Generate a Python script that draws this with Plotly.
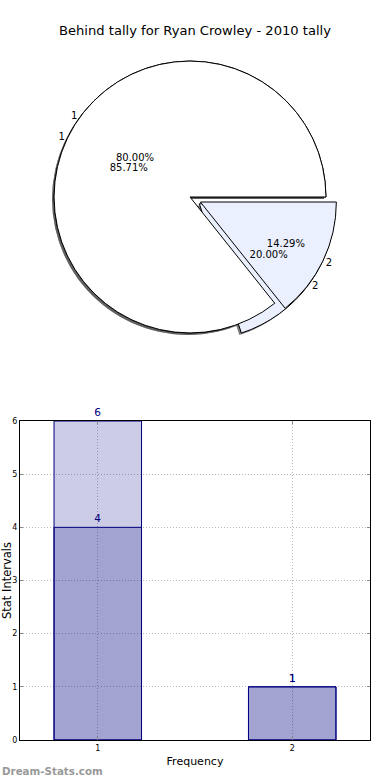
import plotly.graph_objects as go

# ---- data ----
categories = [1, 2]
cat_labels = ["1", "2"]
series_a = [6, 1]   # 85.71% / 14.29%
series_b = [4, 1]   # 80.00% / 20.00%
y_ticks = [0, 1, 2, 3, 4, 5, 6]
title_text = "Behind tally for Ryan Crowley - 2010 tally"

W, H = 390, 780
FONT = "DejaVu Sans"

def px_x(x):
    return x / W

def px_y(y):
    return 1 - y / H

# pie geometry
cx, cy, D = 190, 197, 295
pie_dom = dict(x=[px_x(cx - D / 2), px_x(cx + D / 2)], y=[px_y(cy + D / 2), px_y(cy - D / 2)])
shadow_dom = dict(x=[px_x(cx - D / 2 - 2), px_x(cx + D / 2 - 2)], y=[px_y(cy + D / 2 + 2), px_y(cy - D / 2 + 2)])
pie_colors = ["#ffffff", "#ebf0ff"]
pull = [0, 0.085]

# slices drawn starting at 3 o'clock: slice "2" clockwise below, slice "1" the rest
def rev(v):
    return list(v)[::-1]

common = dict(labels=rev(cat_labels), sort=False, direction="clockwise", rotation=90,
              pull=rev(pull), showlegend=False, hoverinfo="skip")

fig = go.Figure()

# shadows
for vals in (series_b, series_a):
    fig.add_trace(go.Pie(values=rev(vals), domain=shadow_dom, textinfo="none",
                         marker=dict(colors=["rgba(90,90,90,0.8)"] * 2, line=dict(width=0)), **common))

# filled pies
for vals in (series_b, series_a):
    fig.add_trace(go.Pie(values=rev(vals), domain=pie_dom, textinfo="none",
                         marker=dict(colors=rev(pie_colors), line=dict(color="black", width=1)), **common))

# percent text layers (transparent)
for vals in (series_b, series_a):
    fig.add_trace(go.Pie(values=rev(vals), domain=pie_dom, texttemplate="%{percent:.2%}",
                         textposition="inside", insidetextorientation="horizontal",
                         insidetextfont=dict(family=FONT, size=10, color="black"),
                         marker=dict(colors=["rgba(0,0,0,0)"] * 2, line=dict(width=0)), **common))

# label text layers (transparent)
for vals in (series_b, series_a):
    fig.add_trace(go.Pie(values=rev(vals), domain=pie_dom, texttemplate="%{label}",
                         textposition="outside",
                         outsidetextfont=dict(family=FONT, size=10, color="black"),
                         marker=dict(colors=["rgba(0,0,0,0)"] * 2, line=dict(width=0)), **common))

# bars (overlayed, translucent navy)
for vals in (series_a, series_b):
    fig.add_trace(go.Bar(x=categories, y=vals, width=0.45, text=vals, textposition="outside",
                         textfont=dict(family=FONT, size=10.5, color="#000080"),
                         marker=dict(color="rgba(0,0,128,0.2)", line=dict(color="#000080", width=1)),
                         cliponaxis=False, showlegend=False, hoverinfo="skip"))

grid = dict(showgrid=True, gridcolor="#b8b8b8", griddash="1px,2px", gridwidth=1,
            showline=True, linecolor="black", linewidth=1, mirror="ticks",
            ticks="inside", ticklen=3, tickcolor="#888",
            tickfont=dict(size=8, family=FONT),
            zeroline=False, automargin=False, fixedrange=True)

fig.update_layout(
    width=W, height=H,
    margin=dict(l=0, r=0, t=0, b=0),
    paper_bgcolor="white", plot_bgcolor="white",
    font=dict(family=FONT, color="black"),
    barmode="overlay",
    title=dict(text=title_text, x=0.5, xanchor="center", y=px_y(30), yanchor="middle",
               font=dict(family=FONT, size=13.1, color="black")),
    xaxis=dict(domain=[px_x(20), px_x(370)], range=[0.6, 2.4], tickvals=categories, ticktext=cat_labels,
               title=dict(text="Frequency", font=dict(size=11, family=FONT), standoff=5), **grid),
    yaxis=dict(domain=[px_y(740), px_y(421)], range=[0, 6], tickvals=y_ticks,
               title=dict(text="Stat Intervals", font=dict(size=11.5, family=FONT), standoff=1), **grid),
    annotations=[dict(text="<b>Dream-Stats.com</b>", x=0, y=px_y(771), xref="paper", yref="paper",
                      xanchor="left", yanchor="middle", showarrow=False,
                      font=dict(family=FONT, size=10.3, color="#999999"))],
)

fig.write_html("out.html", config={"displayModeBar": False},
               post_script="document.body.style.margin='0';")
